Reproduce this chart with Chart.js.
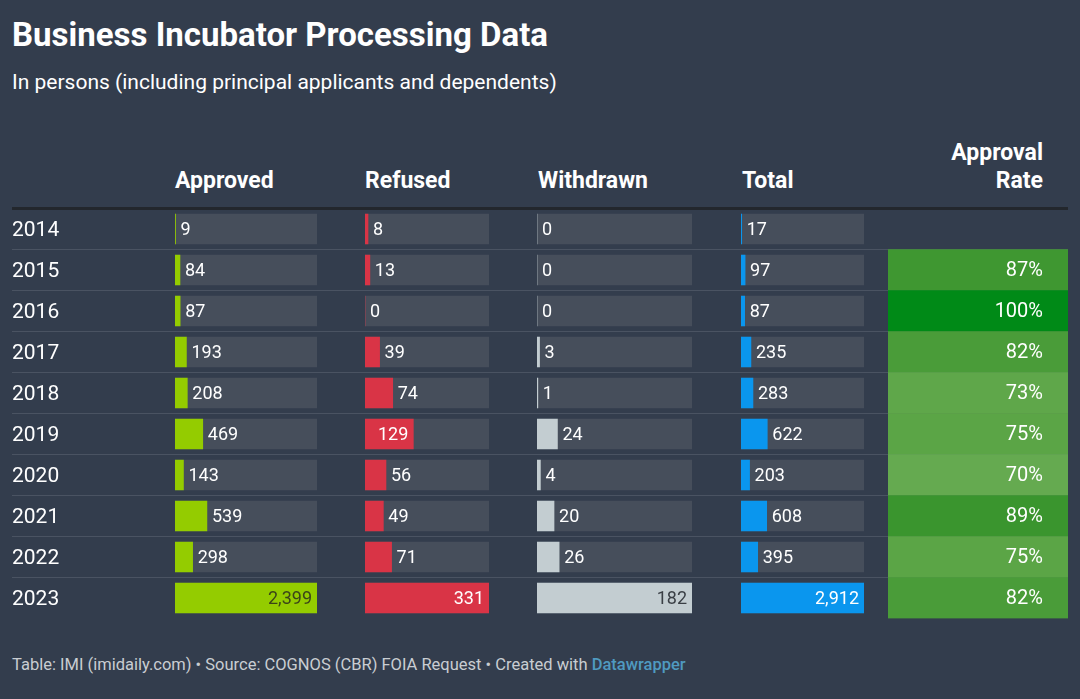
<!DOCTYPE html>
<html>
<head>
<meta charset="utf-8">
<script src="https://cdn.jsdelivr.net/npm/chart.js@4.4.1/dist/chart.umd.min.js"></script>
<style>
  body { margin: 0; width: 1080px; height: 699px; overflow: hidden; background: #333d4d; color: #fff; font-family: Roboto, sans-serif; position: relative; }
  .abs { position: absolute; white-space: nowrap; }
  #title { left: 12px; top: 15px; font-size: 33px; font-weight: 700; line-height: 40px; }
  #subtitle { left: 12px; top: 70px; font-size: 21px; line-height: 24px; }
  .head { top: 167.5px; font-size: 23px; font-weight: 700; line-height: 26px; }
  #rateHead { right: 37px; top: 138.5px; text-align: right; line-height: 28px; }
  #footer { left: 12px; top: 654.5px; font-size: 16.5px; line-height: 20px; color: #c9cdd2; }
  #footer span { color: #4f9ac0; font-weight: 500; }
  .box { position: absolute; top: 198px; height: 430px; }
</style>
</head>
<body>
<div id="title" class="abs">Business Incubator Processing Data</div>
<div id="subtitle" class="abs">In persons (including principal applicants and dependents)</div>

<div class="abs head" style="left:175px">Approved</div>
<div class="abs head" style="left:365px">Refused</div>
<div class="abs head" style="left:538px">Withdrawn</div>
<div class="abs head" style="left:742px">Total</div>
<div id="rateHead" class="abs head">Approval<br>Rate</div>

<div class="box" style="left:0;width:1080px"><canvas id="baseChart"></canvas></div>
<div class="box" style="left:175px;width:142px"><canvas id="approvedChart"></canvas></div>
<div class="box" style="left:365px;width:124px"><canvas id="refusedChart"></canvas></div>
<div class="box" style="left:537px;width:155px"><canvas id="withdrawnChart"></canvas></div>
<div class="box" style="left:741px;width:123px"><canvas id="totalChart"></canvas></div>
<div class="box" style="left:888px;width:180px"><canvas id="rateChart"></canvas></div>

<div id="footer" class="abs">Table: IMI (imidaily.com) • Source: COGNOS (CBR) FOIA Request • Created with <span>Datawrapper</span></div>

<script>
const years = ['2014', '2015', '2016', '2017', '2018', '2019', '2020', '2021', '2022', '2023'];
const approved = [9, 84, 87, 193, 208, 469, 143, 539, 298, 2399];
const refused = [8, 13, 0, 39, 74, 129, 56, 49, 71, 331];
const withdrawn = [0, 0, 0, 3, 1, 24, 4, 20, 26, 182];
const total = [17, 97, 87, 235, 283, 622, 203, 608, 395, 2912];
const approvalRate = [null, 87, 100, 82, 73, 75, 70, 89, 75, 82];

const trackColour = '#464e5b';
const rowPadding = { top: 10.5, bottom: 9.5 };

// echelle de vert pour le taux d'approbation
const rateStops = [[70, [101, 170, 80]], [75, [91, 165, 70]], [82, [74, 156, 57]], [89, [58, 149, 46]], [100, [0, 138, 23]]];
function rateColour(r) {
    if (r == null) return 'transparent';
    for (let i = 1; i < rateStops.length; i++) {
        const [r0, c0] = rateStops[i - 1];
        const [r1, c1] = rateStops[i];
        if (r <= r1) {
            const t = Math.max(0, (r - r0) / (r1 - r0));
            const c = c0.map((v, k) => Math.round(v + (c1[k] - v) * t));
            return `rgb(${c[0]},${c[1]},${c[2]})`;
        }
    }
    return 'rgb(0,138,23)';
}

const valueLabels = {
    id: 'valueLabels',
    afterDatasetsDraw(chart, args, opts) {
        const ctx = chart.ctx;
        const meta = chart.getDatasetMeta(0);
        const values = chart.data.datasets[0].data;
        ctx.save();
        ctx.font = '18px Roboto';
        ctx.textBaseline = 'middle';
        meta.data.forEach((bar, i) => {
            const text = values[i].toLocaleString('en-US');
            const w = ctx.measureText(text).width;
            if (bar.x - bar.base >= w + 12) {
                ctx.textAlign = 'right';
                ctx.fillStyle = opts.insideColour;
                ctx.fillText(text, bar.x - 5, bar.y + 1);
            } else {
                ctx.textAlign = 'left';
                ctx.fillStyle = '#fff';
                ctx.fillText(text, bar.x + 5, bar.y + 1);
            }
        });
        ctx.restore();
    }
};

const rateLabels = {
    id: 'rateLabels',
    afterDatasetsDraw(chart) {
        const ctx = chart.ctx;
        const meta = chart.getDatasetMeta(0);
        ctx.save();
        ctx.font = '20px Roboto';
        ctx.textBaseline = 'middle';
        ctx.textAlign = 'right';
        ctx.fillStyle = '#fff';
        meta.data.forEach((cell, i) => {
            if (approvalRate[i] == null) return;
            ctx.fillText(approvalRate[i] + '%', chart.chartArea.right - 25, cell.y + 1);
        });
        ctx.restore();
    }
};

const commonOptions = {
    indexAxis: 'y',
    responsive: true,
    maintainAspectRatio: false,
    animation: false,
    events: [],
    plugins: { legend: { display: false }, tooltip: { enabled: false } }
};

// grille + annees
new Chart(document.getElementById('baseChart'), {
    type: 'bar',
    data: { labels: years, datasets: [] },
    options: {
        ...commonOptions,
        layout: { padding: { left: 12, right: 12, top: rowPadding.top, bottom: rowPadding.bottom } },
        scales: {
            x: { display: false },
            y: {
                type: 'category',
                offset: true,
                border: { display: false },
                grid: {
                    offset: true,
                    drawTicks: false,
                    color: c => c.type !== 'tick' ? 'transparent' : (c.index === 0 ? '#23272d' : '#4a5362'),
                    lineWidth: c => c.index === 0 ? 3 : 1
                },
                ticks: { mirror: true, padding: 0, labelOffset: 2, color: '#fff', font: { family: 'Roboto', size: 21 } },
                afterFit(scale) {
                    // pas de marge pour les libelles, les lignes doivent tomber sur les barres
                    scale.paddingTop = 0;
                    scale.paddingBottom = 0;
                }
            }
        }
    }
});

function barColumn(id, values, colour, insideColour) {
    const max = Math.max(...values);
    new Chart(document.getElementById(id), {
        type: 'bar',
        data: {
            labels: years,
            datasets: [
                { data: values, backgroundColor: colour, barThickness: 30, grouped: false, order: 0 },
                { data: years.map(() => max), backgroundColor: trackColour, barThickness: 30, grouped: false, order: 1 }
            ]
        },
        options: {
            ...commonOptions,
            layout: { padding: rowPadding },
            plugins: { ...commonOptions.plugins, valueLabels: { insideColour: insideColour } },
            scales: {
                x: { display: false, min: 0, max: max },
                y: { display: false }
            }
        },
        plugins: [valueLabels]
    });
}

barColumn('approvedChart', approved, '#94cc00', '#3b4418');
barColumn('refusedChart', refused, '#d93446', '#fff');
barColumn('withdrawnChart', withdrawn, '#c3cdd1', '#3a3f45');
barColumn('totalChart', total, '#0a96ee', '#fff');

new Chart(document.getElementById('rateChart'), {
    type: 'bar',
    data: {
        labels: years,
        datasets: [{
            data: approvalRate.map(r => r == null ? null : [0, 1]),
            backgroundColor: c => rateColour(approvalRate[c.dataIndex]),
            categoryPercentage: 1,
            barPercentage: 1
        }]
    },
    options: {
        ...commonOptions,
        layout: { padding: rowPadding },
        scales: {
            x: { display: false, min: 0, max: 1 },
            y: {
                z: 1,
                border: { display: false },
                grid: {
                    drawTicks: false,
                    color: c => (c.type !== 'tick' || c.index === 0) ? 'transparent' : 'rgba(255,255,255,0.07)'
                },
                ticks: { display: false }
            }
        }
    },
    plugins: [rateLabels]
});
</script>
</body>
</html>
